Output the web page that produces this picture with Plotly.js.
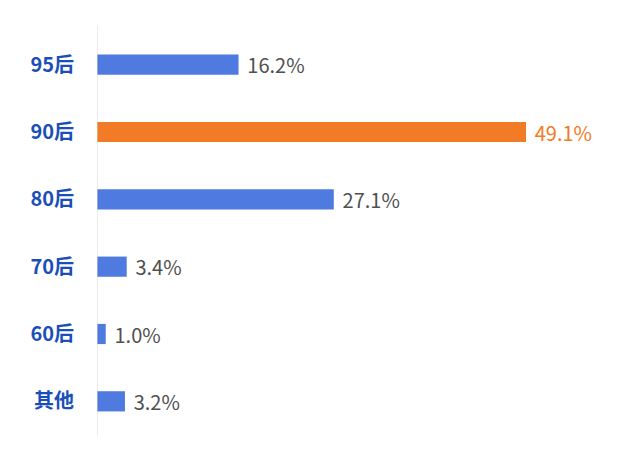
<!DOCTYPE html>
<html>
<head>
<meta charset="utf-8">
<script src="https://cdn.plot.ly/plotly-3.0.1.min.js"></script>
<style>html,body{margin:0;padding:0;background:#fff;}#chart{width:640px;height:453px;}</style>
</head>
<body>
<div id="chart"></div>
<script>
const categories = ["95后", "90后", "80后", "70后", "60后", "其他"];
const values = [16.2, 49.1, 27.1, 3.4, 1.0, 3.2];
const valueLabels = ["16.2%", "49.1%", "27.1%", "3.4%", "1.0%", "3.2%"];
const highlight = "90后";

const blue = "#4f7be0";
const orange = "#f27b25";
const colors = categories.map(c => c === highlight ? orange : blue);
const textColors = categories.map(c => c === highlight ? orange : "#505050");

const trace = {
  type: "bar",
  orientation: "h",
  y: categories,
  x: values,
  text: valueLabels.map(t => " \u200A" + t),
  textposition: "outside",
  constraintext: "none",
  cliponaxis: false,
  textfont: {family: "Noto Sans CJK SC, Noto Sans, sans-serif", size: 20, color: textColors},
  marker: {color: colors},
  width: 0.3,
  hoverinfo: "none"
};

const layout = {
  width: 640,
  height: 453,
  margin: {l: 97, r: 10, t: 31, b: 18},
  paper_bgcolor: "#ffffff",
  plot_bgcolor: "#ffffff",
  showlegend: false,
  xaxis: {range: [0, 61], visible: false, fixedrange: true},
  yaxis: {
    type: "category",
    autorange: "reversed",
    showline: false,
    showgrid: false,
    zeroline: false,
    ticks: "",
    ticklabelstandoff: 22,
    tickfont: {family: "Noto Sans CJK SC, Noto Sans, sans-serif", size: 20, color: "#1b4fb8", weight: "bold"}
  },
  shapes: [{
    type: "line", xref: "x", yref: "paper", x0: 0, x1: 0, y0: -0.003, y1: 1.015,
    line: {color: "#d9d9d9", width: 1}
  }]
};

Plotly.newPlot("chart", [trace], layout, {displayModeBar: false, staticPlot: true});
</script>
</body>
</html>
